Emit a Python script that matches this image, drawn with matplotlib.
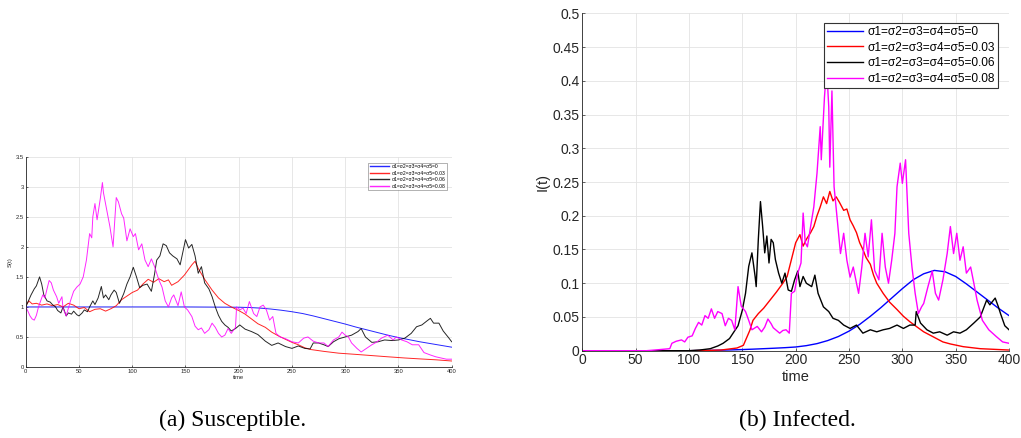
import numpy as np
import matplotlib
matplotlib.use("Agg")
import matplotlib.pyplot as plt

plt.rcParams['font.family'] = ['Liberation Sans', 'DejaVu Sans']

labels = ["σ1=σ2=σ3=σ4=σ5=0", "σ1=σ2=σ3=σ4=σ5=0.03",
          "σ1=σ2=σ3=σ4=σ5=0.06", "σ1=σ2=σ3=σ4=σ5=0.08"]
colors = ["#0000ff", "#ff0000", "#000000", "#ff00ff"]

# ---- S(t), susceptible ----
s_t0 = [0, 50, 100, 150, 200, 210, 220, 230, 240, 250, 260, 270, 280, 290, 300,
        310, 320, 330, 340, 350, 360, 370, 380, 390, 400]
s_v0 = [1.0, 1.0, 1.0, 1.0, 0.995, 0.99, 0.98, 0.965, 0.945, 0.92, 0.89, 0.85, 0.805,
        0.76, 0.715, 0.665, 0.62, 0.575, 0.53, 0.49, 0.455, 0.42, 0.39, 0.36, 0.33]

s_t1 = [0, 3, 6, 10, 15, 20, 25, 30, 35, 40, 45, 50, 55, 60, 65, 70, 75, 80, 85, 90,
        95, 100, 105, 110, 115, 120, 125, 130, 134, 137, 143, 149, 156, 159, 162, 168,
        175, 181, 187, 193, 200, 206, 212, 218, 225, 231, 237, 244, 250, 256, 262, 268,
        280, 294, 310, 325, 340, 356, 370, 385, 400]
s_v1 = [1.02, 1.1, 1.05, 1.06, 1.03, 1.05, 1.02, 1.04, 1.0, 1.06, 1.03, 0.97, 0.99,
        0.92, 0.96, 0.97, 0.93, 0.97, 1.02, 1.12, 1.18, 1.24, 1.28, 1.38, 1.46, 1.41,
        1.47, 1.42, 1.45, 1.36, 1.42, 1.53, 1.7, 1.76, 1.64, 1.46, 1.28, 1.15, 1.06,
        1.0, 0.94, 0.88, 0.8, 0.72, 0.66, 0.58, 0.52, 0.46, 0.41, 0.37, 0.32, 0.29,
        0.26, 0.23, 0.21, 0.19, 0.17, 0.15, 0.135, 0.12, 0.1]

s_t2 = [0, 3, 5, 8, 10, 12, 13, 15, 17, 20, 23, 25, 28, 30, 33, 35, 38, 40, 43, 45, 48,
        50, 53, 55, 58, 60, 63, 65, 68, 71, 73, 75, 78, 80, 83, 85, 88, 92, 95, 98, 101,
        104, 107, 110, 114, 118, 121, 123, 126, 129, 132, 135, 138, 142, 145, 148, 150,
        153, 156, 159, 162, 165, 168, 172, 175, 178, 181, 184, 187, 190, 193, 197, 201,
        206, 212, 218, 225, 231, 237, 244, 250, 256, 262, 267, 270, 275, 280, 284, 289,
        294, 300, 306, 312, 315, 319, 325, 331, 337, 344, 350, 356, 362, 367, 372, 377,
        380, 383, 388, 392, 397, 400]
s_v2 = [1.0, 1.12, 1.2, 1.3, 1.35, 1.45, 1.5, 1.38, 1.2, 1.1, 1.08, 1.04, 1.0, 0.94,
        0.9, 1.0, 0.85, 0.9, 0.88, 0.93, 0.87, 0.85, 0.9, 0.95, 0.92, 1.0, 1.1, 1.04,
        1.15, 1.34, 1.15, 1.2, 1.12, 1.2, 1.28, 1.24, 1.06, 1.22, 1.38, 1.5, 1.66, 1.5,
        1.32, 1.36, 1.38, 1.26, 1.55, 1.78, 1.85, 2.05, 2.02, 1.9, 1.85, 1.8, 1.7, 1.95,
        2.12, 1.98, 2.04, 1.85, 1.56, 1.67, 1.4, 1.3, 1.17, 1.0, 0.86, 0.76, 0.7, 0.66,
        0.6, 0.64, 0.7, 0.63, 0.59, 0.54, 0.43, 0.36, 0.4, 0.34, 0.31, 0.35, 0.31, 0.3,
        0.4, 0.4, 0.37, 0.34, 0.42, 0.47, 0.5, 0.53, 0.59, 0.64, 0.5, 0.41, 0.42, 0.45,
        0.44, 0.45, 0.48, 0.56, 0.67, 0.7, 0.77, 0.81, 0.73, 0.73, 0.6, 0.49, 0.42]

s_t3 = [0, 2, 4, 6, 8, 10, 12, 14, 16, 18, 20, 22, 24, 26, 29, 31, 34, 35, 38, 42, 45,
        48, 51, 54, 57, 60, 62, 63, 65, 67, 70, 72, 73, 76, 79, 82, 85, 87, 90, 92, 95,
        98, 101, 103, 106, 109, 112, 115, 118, 121, 125, 128, 131, 134, 137, 139, 143,
        146, 149, 152, 156, 159, 162, 165, 168, 172, 175, 178, 181, 184, 187, 190, 193,
        197, 198, 201, 204, 207, 210, 214, 217, 220, 223, 226, 229, 232, 235, 239, 244,
        250, 256, 261, 265, 270, 275, 280, 284, 289, 294, 297, 300, 303, 306, 311, 315,
        320, 325, 330, 334, 340, 345, 348, 353, 358, 363, 369, 374, 380, 385, 390, 395,
        400]
s_v3 = [1.0, 0.93, 0.85, 0.8, 0.78, 0.86, 1.0, 1.1, 1.2, 1.15, 1.3, 1.44, 1.4, 1.28,
        1.17, 1.06, 1.17, 0.98, 0.85, 1.1, 1.26, 1.33, 1.38, 1.5, 1.78, 2.22, 2.15, 2.5,
        2.72, 2.45, 2.8, 3.07, 2.9, 2.62, 2.34, 2.0, 2.82, 2.75, 2.55, 2.48, 2.1, 2.3,
        2.17, 2.22, 1.95, 2.05, 1.78, 1.67, 1.8, 1.67, 1.45, 1.33, 1.1, 1.0, 1.15, 1.2,
        1.02, 1.25, 1.0, 0.95, 0.84, 0.68, 0.62, 0.65, 0.56, 0.62, 0.73, 0.66, 0.56, 0.5,
        0.53, 0.64, 0.56, 0.66, 1.0, 0.95, 0.98, 0.89, 1.09, 0.89, 0.84, 1.0, 1.03, 0.95,
        0.78, 0.84, 0.56, 0.5, 0.47, 0.42, 0.4, 0.48, 0.5, 0.43, 0.4, 0.4, 0.34, 0.45,
        0.5, 0.58, 0.53, 0.5, 0.4, 0.31, 0.25, 0.31, 0.37, 0.42, 0.48, 0.53, 0.45, 0.5,
        0.45, 0.42, 0.37, 0.37, 0.24, 0.2, 0.17, 0.15, 0.13, 0.13]

# ---- I(t), infected ----
i_t0 = [0, 100, 110, 120, 130, 140, 150, 160, 170, 180, 190, 200, 210, 220, 230, 240,
        250, 260, 270, 280, 290, 300, 310, 320, 330, 340, 350, 360, 370, 380, 390, 400]
i_v0 = [0.0, 0.0, 0.0003, 0.0005, 0.0008, 0.0012, 0.0017, 0.0023, 0.003, 0.0037,
        0.0045, 0.0055, 0.0075, 0.0105, 0.015, 0.021, 0.029, 0.039, 0.051, 0.064, 0.078,
        0.092, 0.105, 0.114, 0.119, 0.117, 0.11, 0.099, 0.087, 0.075, 0.063, 0.052]

i_t1 = [0, 100, 120, 130, 140, 145, 151, 157, 160, 165, 170, 176, 182, 188, 192, 196,
        200, 204, 207, 210, 214, 217, 220, 223, 226, 229, 232, 235, 238, 241, 245, 248,
        251, 254, 257, 260, 263, 266, 270, 273, 276, 282, 288, 295, 301, 307, 313, 320,
        326, 332, 338, 345, 357, 373, 400]
i_v1 = [0.0, 0.0, 0.0005, 0.001, 0.003, 0.004, 0.008, 0.03, 0.045, 0.055, 0.063, 0.075,
        0.087, 0.1, 0.11, 0.135, 0.16, 0.172, 0.155, 0.165, 0.175, 0.184, 0.2, 0.213,
        0.228, 0.218, 0.236, 0.222, 0.228, 0.22, 0.208, 0.21, 0.194, 0.185, 0.175, 0.16,
        0.15, 0.138, 0.128, 0.112, 0.1, 0.085, 0.072, 0.061, 0.051, 0.043, 0.036, 0.028,
        0.023, 0.018, 0.013, 0.01, 0.006, 0.003, 0.001]

i_t2 = [0, 100, 110, 120, 127, 132, 138, 143, 146, 150, 153, 156, 159, 162, 163, 165,
        167, 169, 171, 173, 175, 177, 179, 181, 184, 187, 190, 193, 196, 199, 202, 204,
        207, 210, 215, 218, 221, 226, 231, 235, 240, 245, 251, 257, 263, 270, 276, 282,
        288, 295, 301, 307, 312, 313, 317, 323, 329, 335, 342, 348, 354, 360, 367, 373,
        379, 382, 387, 390, 392, 396, 400]
i_v2 = [0.0, 0.0, 0.001, 0.003, 0.007, 0.011, 0.018, 0.03, 0.037, 0.06, 0.085, 0.125,
        0.145, 0.11, 0.095, 0.165, 0.221, 0.185, 0.145, 0.17, 0.13, 0.165, 0.16, 0.135,
        0.115, 0.1, 0.115, 0.09, 0.088, 0.105, 0.118, 0.095, 0.11, 0.1, 0.095, 0.112,
        0.085, 0.065, 0.058, 0.048, 0.045, 0.038, 0.033, 0.038, 0.026, 0.031, 0.028,
        0.031, 0.033, 0.038, 0.033, 0.038, 0.038, 0.058, 0.041, 0.031, 0.026, 0.028,
        0.023, 0.028, 0.026, 0.031, 0.041, 0.05, 0.075, 0.068, 0.078, 0.065, 0.055,
        0.037, 0.031]

i_t3 = [0, 60, 68, 75, 82, 84, 88, 93, 96, 99, 103, 106, 109, 112, 115, 118, 121, 124,
        127, 131, 134, 137, 140, 143, 146, 149, 153, 156, 159, 164, 168, 171, 174, 177,
        179, 182, 185, 188, 191, 194, 196, 199, 202, 205, 207, 209, 211, 214, 217, 220,
        223, 224, 227, 229, 231, 232, 234, 236, 239, 242, 245, 248, 251, 254, 257, 259,
        262, 265, 268, 271, 274, 278, 281, 284, 287, 290, 293, 295, 298, 300, 303, 306,
        309, 312, 315, 318, 320, 324, 328, 331, 334, 338, 342, 345, 348, 351, 354, 357,
        360, 364, 367, 370, 375, 381, 388, 394, 400]
i_v3 = [0.0, 0.0, 0.001, 0.002, 0.003, 0.011, 0.014, 0.016, 0.013, 0.02, 0.022, 0.033,
        0.042, 0.038, 0.052, 0.048, 0.062, 0.048, 0.058, 0.055, 0.037, 0.048, 0.045,
        0.031, 0.095, 0.066, 0.058, 0.045, 0.031, 0.036, 0.028, 0.035, 0.047, 0.04,
        0.034, 0.03, 0.026, 0.03, 0.031, 0.026, 0.085, 0.088, 0.115, 0.13, 0.204, 0.16,
        0.154, 0.184, 0.213, 0.263, 0.332, 0.283, 0.376, 0.42, 0.362, 0.272, 0.385,
        0.243, 0.194, 0.144, 0.174, 0.134, 0.109, 0.124, 0.1, 0.085, 0.124, 0.174, 0.139,
        0.194, 0.119, 0.105, 0.174, 0.124, 0.1, 0.134, 0.174, 0.243, 0.278, 0.248, 0.283,
        0.174, 0.124, 0.085, 0.055, 0.065, 0.07, 0.095, 0.118, 0.085, 0.075, 0.105,
        0.144, 0.184, 0.144, 0.174, 0.134, 0.154, 0.115, 0.124, 0.1, 0.075, 0.045, 0.031,
        0.021, 0.013, 0.011]

s_ticks = [0, 0.5, 1, 1.5, 2, 2.5, 3, 3.5]
s_ticklabels = ["0", "0.5", "1", "1.5", "2", "2.5", "3", "3.5"]
i_ticks = [0, 0.05, 0.1, 0.15, 0.2, 0.25, 0.3, 0.35, 0.4, 0.45, 0.5]
i_ticklabels = ["0", "0.05", "0.1", "0.15", "0.2", "0.25", "0.3", "0.35", "0.4",
                "0.45", "0.5"]
t_ticks = [0, 50, 100, 150, 200, 250, 300, 350, 400]


def style_axes(ax, fs, yticks, yticklabels, ylim):
    # grey matlab-like frame: inward ticks, light grid, no top/right spine
    ax.set_xlim(0, 400)
    ax.set_ylim(*ylim)
    ax.set_xticks(t_ticks)
    ax.set_xticklabels([str(t) for t in t_ticks])
    ax.set_yticks(yticks)
    ax.set_yticklabels(yticklabels)
    ax.grid(True, color="#e3e3e3", linewidth=0.6)
    ax.set_axisbelow(True)
    for side in ("top", "right"):
        ax.spines[side].set_visible(False)
    for side in ("left", "bottom"):
        ax.spines[side].set_color("#262626")
        ax.spines[side].set_linewidth(0.6)
    ax.tick_params(direction="in", length=2.5, width=0.5, colors="#262626",
                   labelsize=fs, pad=2)


fig = plt.figure(figsize=(10.21, 4.38), dpi=100)

# left panel: S(t)
ax1 = fig.add_axes([0.0252, 0.1621, 0.4172, 0.4801])
series_s = [(s_t0, s_v0), (s_t1, s_v1), (s_t2, s_v2), (s_t3, s_v3)]
for (t, v), c, lab in zip(series_s, colors, labels):
    ax1.plot(t, v, color=c, linewidth=0.7, label=lab, alpha=0.85)
style_axes(ax1, 4.2, s_ticks, s_ticklabels, (0, 3.5))
ax1.tick_params(length=1.5, pad=1.2)
ax1.set_xlabel("time", fontsize=4.2, color="#262626", labelpad=1)
ax1.set_ylabel("S(t)", fontsize=4.2, color="#262626", labelpad=2)
leg1 = ax1.legend(loc="upper right", bbox_to_anchor=(446.7 / 1021, 1 - 162.7 / 438),
                  bbox_transform=fig.transFigure, fontsize=3.6, frameon=True,
                  fancybox=False, handlelength=3.8, labelspacing=0.3,
                  borderpad=0.3, handletextpad=0.5, borderaxespad=0)
leg1.get_frame().set_edgecolor("#555555")
leg1.get_frame().set_linewidth(0.4)
for ln in leg1.get_lines():
    ln.set_linewidth(1.0)

# right panel: I(t)
ax2 = fig.add_axes([0.5703, 0.1993, 0.418, 0.7703])
series_i = [(i_t0, i_v0), (i_t1, i_v1), (i_t2, i_v2), (i_t3, i_v3)]
for (t, v), c, lab in zip(series_i, colors, labels):
    ax2.plot(t, v, color=c, linewidth=1.0, label=lab)
style_axes(ax2, 10, i_ticks, i_ticklabels, (0, 0.5))
ax2.set_xlabel("time", fontsize=10.5, color="#262626", labelpad=2)
ax2.set_ylabel("I(t)", fontsize=10.5, color="#262626", labelpad=2)
leg2 = ax2.legend(loc="upper right", bbox_to_anchor=(998 / 1021, 1 - 23 / 438),
                  bbox_transform=fig.transFigure, fontsize=8.6, frameon=True,
                  fancybox=False, framealpha=1, handlelength=3.0,
                  labelspacing=0.3, borderpad=0.25, handletextpad=0.4,
                  borderaxespad=0)
leg2.get_frame().set_edgecolor("#333333")
leg2.get_frame().set_linewidth(0.8)

fig.text(233 / 1021, 1 - 420 / 438, "(a) Susceptible.", ha="center", va="center",
         fontsize=17, family="Liberation Serif")
fig.text(797 / 1021, 1 - 420 / 438, "(b) Infected.", ha="center", va="center",
         fontsize=17, family="Liberation Serif")

fig.savefig("out.png", dpi=100)
